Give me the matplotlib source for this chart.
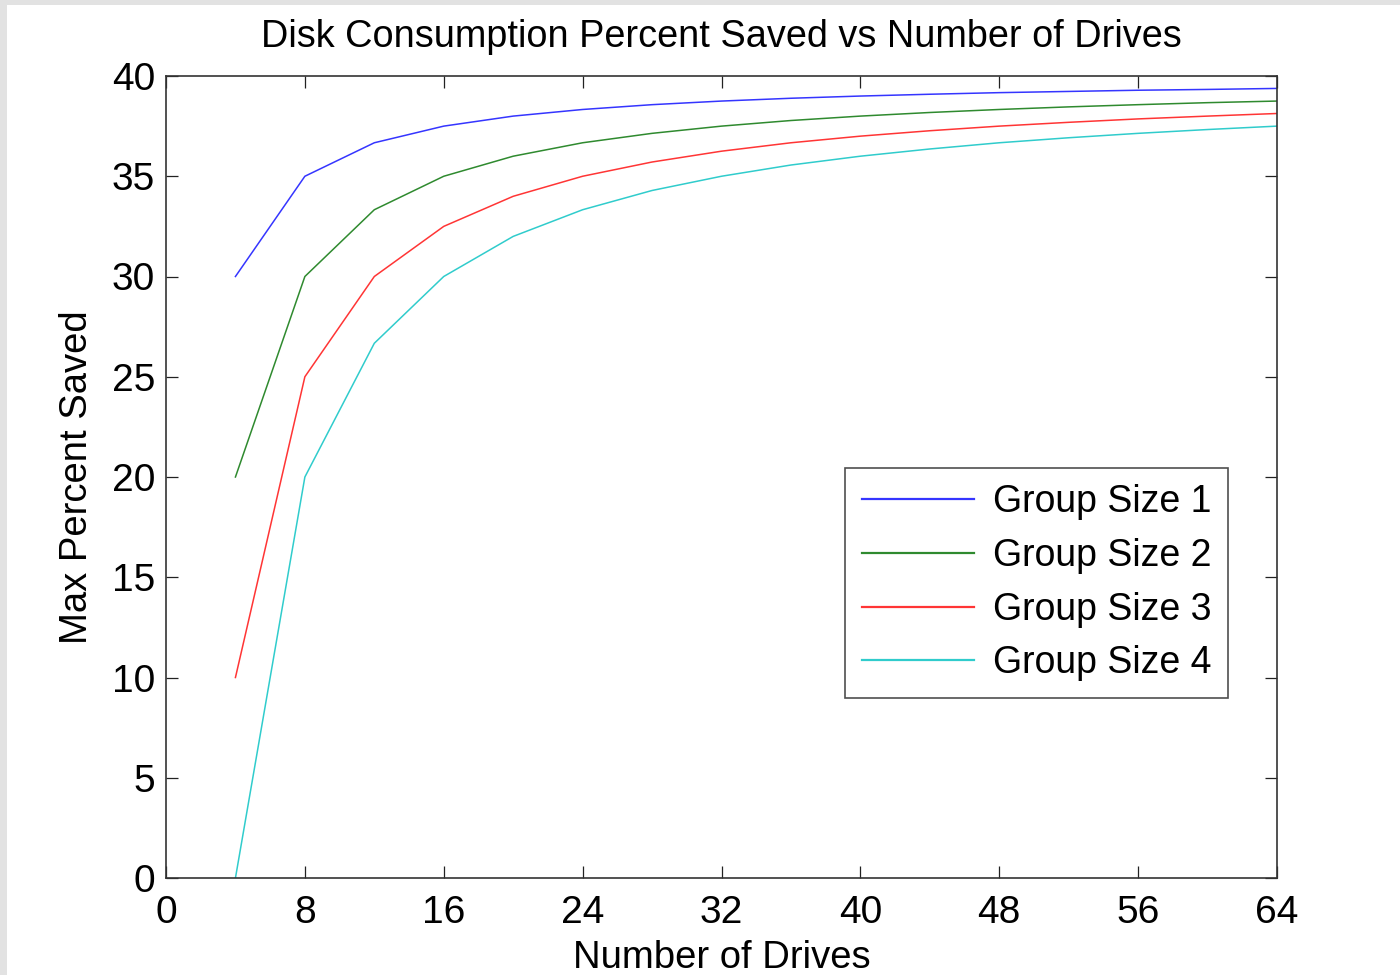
import matplotlib
matplotlib.use("Agg")
import matplotlib.pyplot as plt
from matplotlib.patches import Rectangle

plt.rcParams['font.family'] = ['Liberation Sans', 'DejaVu Sans']

# Number of drives in the array
drives = [4, 8, 12, 16, 20, 24, 28, 32, 36, 40, 44, 48, 52, 56, 60, 64]

# Max percent saved for each group size
group1 = [30.00, 35.00, 36.67, 37.50, 38.00, 38.33, 38.57, 38.75,
          38.89, 39.00, 39.09, 39.17, 39.23, 39.29, 39.33, 39.38]
group2 = [20.00, 30.00, 33.33, 35.00, 36.00, 36.67, 37.14, 37.50,
          37.78, 38.00, 38.18, 38.33, 38.46, 38.57, 38.67, 38.75]
group3 = [10.00, 25.00, 30.00, 32.50, 34.00, 35.00, 35.71, 36.25,
          36.67, 37.00, 37.27, 37.50, 37.69, 37.86, 38.00, 38.13]
group4 = [0.00, 20.00, 26.67, 30.00, 32.00, 33.33, 34.29, 35.00,
          35.56, 36.00, 36.36, 36.67, 36.92, 37.14, 37.33, 37.50]

series_labels = ["Group Size 1", "Group Size 2", "Group Size 3", "Group Size 4"]
series_colors = ["#3535ff", "#2f8a2f", "#ff3535", "#30cccc"]

x_ticks = [0, 8, 16, 24, 32, 40, 48, 56, 64]
y_ticks = [0, 5, 10, 15, 20, 25, 30, 35, 40]

W, H = 1400, 975
fig = plt.figure(figsize=(W / 100, H / 100), dpi=100)
fig.patch.set_facecolor("white")

# light grey window edge along the top and left
fig.patches.append(Rectangle((0, 1 - 5 / H), 1, 5 / H, transform=fig.transFigure,
                             facecolor="#e2e2e2", edgecolor="none", zorder=-1))
fig.patches.append(Rectangle((0, 0), 7 / W, 1, transform=fig.transFigure,
                             facecolor="#e2e2e2", edgecolor="none", zorder=-1))

left, right, top, bottom = 166 / W, 1277 / W, 1 - 76 / H, 1 - 878 / H
ax = fig.add_axes([left, bottom, right - left, top - bottom])

for vals, lab, col in zip([group1, group2, group3, group4], series_labels, series_colors):
    ax.plot(drives, vals, color=col, linewidth=1.1, label=lab)

ax.set_xlim(0, 64)
ax.set_ylim(0, 40)
ax.set_xticks(x_ticks)
ax.set_yticks(y_ticks)
ax.tick_params(direction="in", top=True, right=True, length=8.5, width=0.9,
               labelsize=28, colors="#222222", labelcolor="black")
ax.tick_params(axis="x", pad=12)
ax.tick_params(axis="y", pad=8)
for s in ax.spines.values():
    s.set_linewidth(1.2)
    s.set_color("#333333")

ax.set_title("Disk Consumption Percent Saved vs Number of Drives", fontsize=27.3, pad=21)
ax.set_xlabel("Number of Drives", fontsize=27.5, labelpad=7)
ax.set_ylabel("Max Percent Saved", fontsize=27.5, labelpad=12)

leg = ax.legend(loc="upper left", bbox_to_anchor=(845 / W, 1 - 468 / H),
                bbox_transform=fig.transFigure, borderaxespad=0, fontsize=27,
                frameon=True, fancybox=False, shadow=False, handlelength=3.0,
                handletextpad=0.5, labelspacing=0.47, borderpad=0.44)
leg.get_frame().set_edgecolor("#222222")
leg.get_frame().set_linewidth(1.2)
for h in leg.get_lines():
    h.set_linewidth(1.6)

fig.savefig("out.png", dpi=100)
